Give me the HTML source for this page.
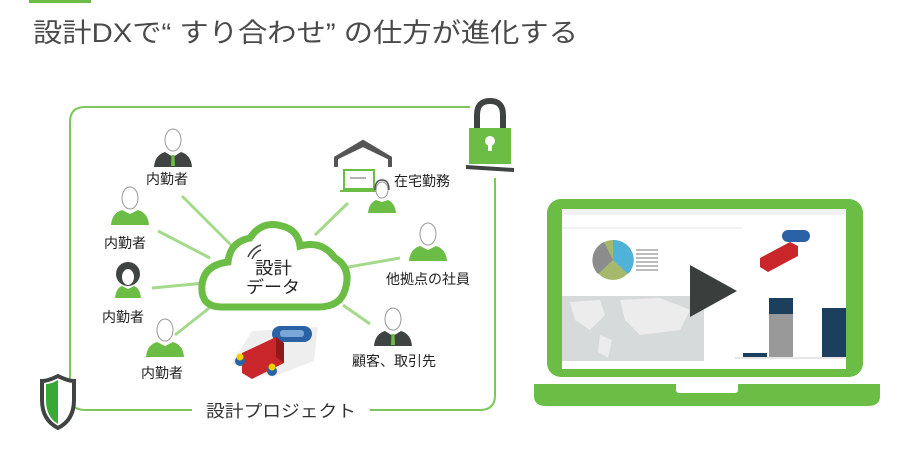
<!DOCTYPE html>
<html><head><meta charset="utf-8"><style>
html,body{margin:0;padding:0;background:#fff;width:900px;height:450px;overflow:hidden}
svg{display:block}
text{font-family:"Liberation Sans","Noto Sans CJK JP",sans-serif}
</style></head><body>
<svg width="900" height="450" viewBox="0 0 900 450" xmlns="http://www.w3.org/2000/svg">
<defs>
<g id="pw"><ellipse cx="0" cy="0" rx="8" ry="11" fill="#fff" stroke="#999" stroke-width="1"/><path d="M-19 27 Q-18 15 -8 12 L0 16 L8 12 Q18 15 19 27 Z" fill="#6cbd45"/></g>
<g id="ps"><ellipse cx="0" cy="0" rx="8" ry="11" fill="#fff" stroke="#999" stroke-width="1"/><path d="M-19 27 Q-18 15 -8 12 L0 17 L8 12 Q18 15 19 27 Z" fill="#3f4342"/><path d="M-4 12 L0 17 L4 12 Z" fill="#fff"/><path d="M-1.5 15 L1.5 15 L2 26 L-2 26 Z" fill="#6cbd45"/></g>
</defs>
<rect x="29" y="0" width="62" height="3" fill="#6cbd45"/>
<text x="33" y="42" font-size="26.5" fill="#4a4a4a" textLength="545" lengthAdjust="spacingAndGlyphs">設計DXで“ すり合わせ” の仕方が進化する</text>

<!-- frame -->
<path d="M192 410 H85 Q70 410 70 395 V122 Q70 107 85 107 H470" fill="none" stroke="#7dc65a" stroke-width="2"/>
<path d="M495 178 V395 Q495 410 480 410 H370" fill="none" stroke="#7dc65a" stroke-width="2"/>
<text x="206" y="417" font-size="17" fill="#333" textLength="150" lengthAdjust="spacingAndGlyphs">設計プロジェクト</text>
<!-- lock -->
<path d="M477 130 V115 Q477 101 490 101 Q503 101 503 115 V130" fill="none" stroke="#3f4342" stroke-width="6"/>
<rect x="469" y="128" width="42" height="36" fill="#6cbd45"/>
<path d="M466 165 L514 168 L514 172 L466 169 Z" fill="#3f4342"/>
<circle cx="490" cy="141" r="5" fill="#fff"/><rect x="488" y="141" width="4" height="10" fill="#fff"/>
<!-- shield -->
<path d="M58 376 Q48 381 42 381 V400 Q42 420 58 428 Q74 420 74 400 V381 Q68 381 58 376 Z" fill="#fff" stroke="#3f4342" stroke-width="4"/>
<path d="M58 380 Q51 384 46 384 V400 Q46 417 58 424 Z" fill="#39a935"/>

<!-- lines -->
<g stroke="#a5d98c" stroke-width="3">
<line x1="182" y1="196" x2="232" y2="246"/><line x1="158" y1="231" x2="210" y2="258"/>
<line x1="152" y1="288" x2="205" y2="283"/><line x1="175" y1="335" x2="213" y2="305"/>
<line x1="348" y1="203" x2="315" y2="235"/><line x1="400" y1="258" x2="343" y2="268"/>
<line x1="370" y1="324" x2="343" y2="305"/>
</g>
<!-- cloud -->
<path d="M222 307 Q200 307 202 285 Q204 265 228 262 Q230 242 250 238 Q262 220 282 226 Q298 230 300 246 Q322 240 335 258 Q352 268 345 290 Q340 307 318 307 Z" fill="#fff" stroke="#6cbd45" stroke-width="7"/>
<path d="M248 257 Q252 248 261 245 M252 259 Q255 252 261 250" stroke="#3f4342" stroke-width="1.5" fill="none"/>
<text x="255" y="274" font-size="17" fill="#222" textLength="37" lengthAdjust="spacingAndGlyphs">設計</text>
<text x="246" y="293" font-size="17" fill="#222" textLength="54" lengthAdjust="spacingAndGlyphs">データ</text>

<!-- people -->
<use href="#ps" x="173" y="140"/>
<text x="146" y="184" font-size="14" fill="#222">内勤者</text>
<use href="#pw" x="130" y="198"/>
<text x="104" y="248" font-size="14" fill="#222">内勤者</text>
<g transform="translate(128,276)"><circle cx="0" cy="-2" r="12" fill="#3f4342"/><ellipse cx="0" cy="1" rx="6" ry="8" fill="#fff"/><path d="M-13 22 Q-12 12 -6 10 L0 13 L6 10 Q12 12 13 22 Z" fill="#6cbd45"/></g>
<text x="102" y="322" font-size="14" fill="#222">内勤者</text>
<use href="#pw" x="165" y="330"/>
<text x="141" y="378" font-size="14" fill="#222">内勤者</text>
<!-- house & laptop -->
<path d="M336 167 V158 L363 142 L390 158 V167 M390 158 L363 145 L336 158" fill="none" stroke="#555" stroke-width="4"/>
<rect x="344" y="170" width="30" height="19" fill="#fff" stroke="#6cbd45" stroke-width="2"/>
<line x1="350" y1="178" x2="366" y2="178" stroke="#999" stroke-width="1.5"/>
<line x1="340" y1="191" x2="378" y2="191" stroke="#6cbd45" stroke-width="2"/>
<g transform="translate(382,190)"><ellipse cx="0" cy="0" rx="6" ry="8" fill="#fff" stroke="#999"/><path d="M-14 23 Q-13 13 -6 10 L0 12 L6 10 Q13 13 14 23 Z" fill="#6cbd45"/><path d="M-7 0 Q-7 -10 0 -10 Q7 -10 7 0" fill="none" stroke="#555" stroke-width="1.5"/></g>
<text x="394" y="186" font-size="14" fill="#222">在宅勤務</text>
<use href="#pw" x="428" y="234"/>
<text x="386" y="284" font-size="14" fill="#222">他拠点の社員</text>
<use href="#ps" x="393" y="319"/>
<text x="352" y="366" font-size="14" fill="#222">顧客、取引先</text>
<!-- 3D model -->
<g transform="translate(230,323)">
<path d="M2 40 L22 8 L88 4 L84 38 L42 54 Z" fill="#eee"/>
<rect x="42" y="3" width="40" height="16" rx="8" fill="#2b62a6"/>
<rect x="50" y="7" width="24" height="7" rx="3" fill="#7aa7d8"/>
<path d="M12 30 L46 14 L54 20 L54 40 L22 56 L12 50 Z" fill="#c8262a"/>
<path d="M46 14 L54 20 L54 40 L46 34 Z" fill="#8e1a1c"/>
<circle cx="10" cy="38" r="5" fill="#2b62a6"/><circle cx="10" cy="34" r="3.5" fill="#f0d000"/>
<circle cx="42" cy="48" r="5" fill="#2b62a6"/><circle cx="42" cy="44" r="3.5" fill="#f0d000"/>
</g>

<!-- laptop -->
<rect x="547" y="199" width="316" height="178" rx="14" fill="#6cbd45"/>
<rect x="562" y="209" width="284" height="160" fill="#fff"/>
<rect x="562" y="209" width="284" height="6" fill="#f2f2f2"/>
<line x1="562" y1="228" x2="846" y2="228" stroke="#e6e6e6"/>
<circle cx="613" cy="260" r="20" fill="#a6b86c"/>
<path d="M613 260 L613 240 A20 20 0 0 1 628 274 Z" fill="#4fb2d6"/>
<path d="M613 260 L598 274 A20 20 0 0 1 604 242 Z" fill="#8c8c8c"/>
<g fill="#bbb"><rect x="636" y="249" width="22" height="2"/><rect x="636" y="253" width="22" height="2"/><rect x="636" y="257" width="22" height="2"/><rect x="636" y="261" width="22" height="2"/><rect x="636" y="265" width="22" height="2"/><rect x="636" y="269" width="22" height="2"/></g>
<rect x="562" y="296" width="142" height="65" fill="#d7dadb"/>
<path d="M570 302 L600 300 L605 315 L590 330 L575 320 Z M620 300 L660 298 L690 310 L680 330 L640 335 L625 320 Z M600 335 L612 340 L608 358 L598 352 Z" fill="#ececec"/>
<rect x="742" y="227" width="104" height="48" fill="#fff"/>
<path d="M760 258 L790 242 L798 246 L798 256 L768 272 L760 267 Z" fill="#c8262a"/>
<rect x="782" y="230" width="28" height="12" rx="6" fill="#2b62a6"/>
<rect x="769" y="298" width="24" height="16" fill="#1d3f5e"/>
<rect x="769" y="314" width="24" height="43" fill="#999"/>
<rect x="822" y="308" width="24" height="49" fill="#1d3f5e"/>
<rect x="743" y="353" width="24" height="4" fill="#1d3f5e"/>
<line x1="735" y1="358" x2="846" y2="358" stroke="#ccc"/>
<path d="M690 265 L737 291 L690 317 Z" fill="#3a3f3e"/>
<path d="M534 384 H880 V396 Q880 406 868 406 H546 Q534 406 534 396 Z" fill="#6cbd45"/>
<path d="M676 384 V390 Q676 393 680 393 H734 Q738 393 738 390 V384 Z" fill="#fff"/>
</svg>
</body></html>
